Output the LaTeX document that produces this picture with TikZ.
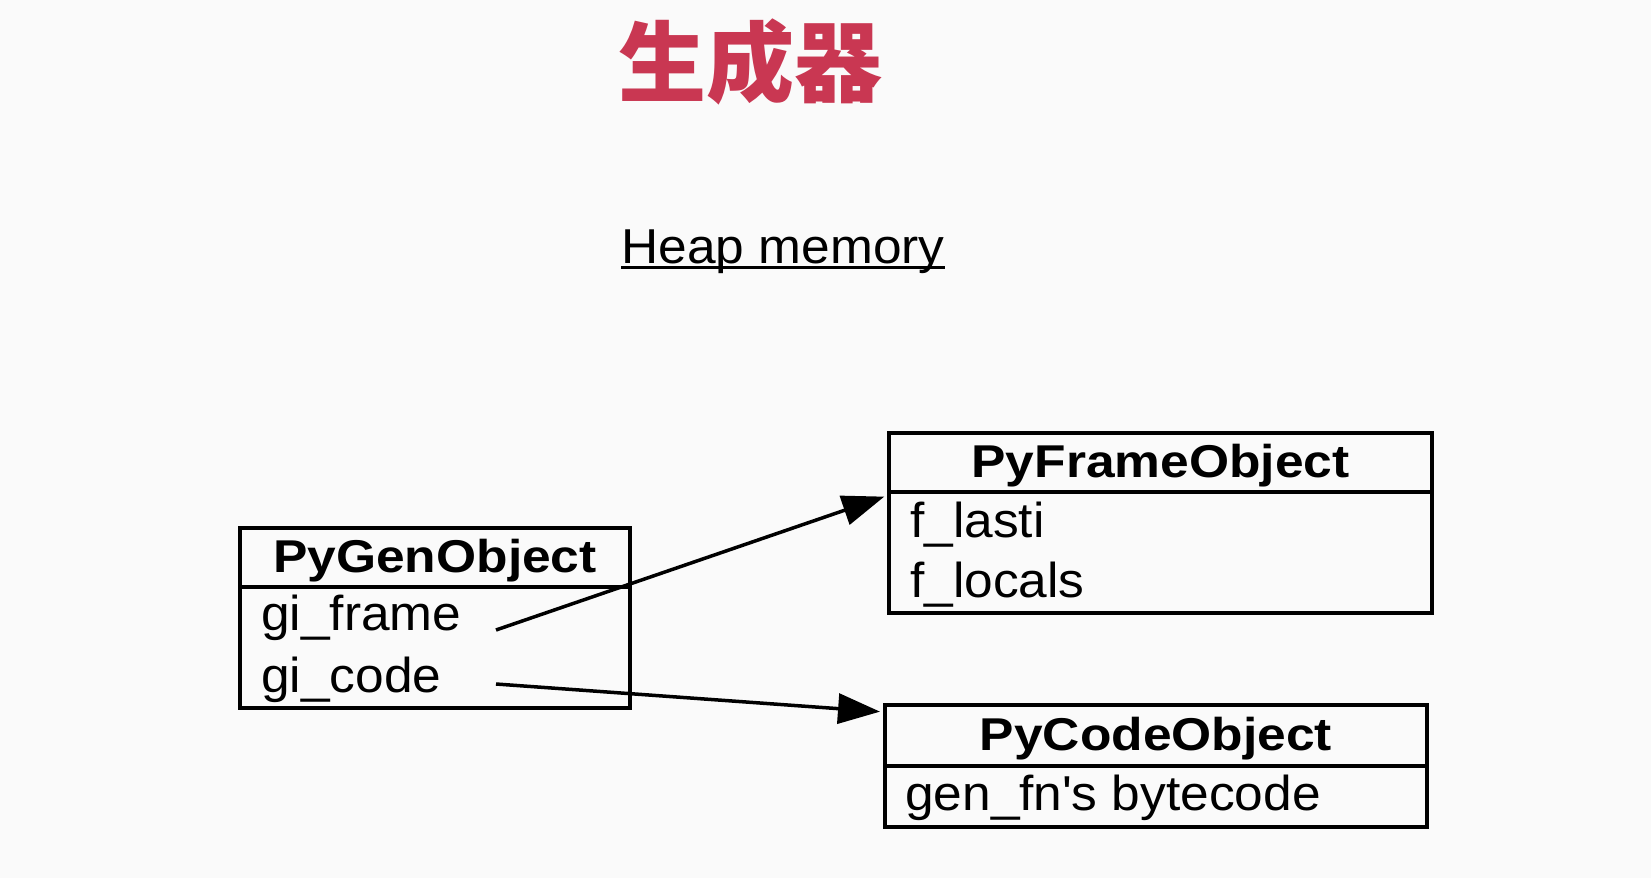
\documentclass[tikz,border=0pt]{standalone}
\usepackage{fontspec}
\setmainfont{Liberation Sans}[FakeStretch=1.05, BoldFeatures={FakeStretch=1.12}]
\newfontfamily\cjkfont{Noto Sans CJK SC}
\usetikzlibrary{positioning}
\usetikzlibrary{calc}
\usetikzlibrary{arrows.meta}
\definecolor{titlered}{RGB}{201,55,82}
\definecolor{bgpaper}{RGB}{250,250,250}
\tikzset{>={Triangle[length=42pt,width=30pt]}}
\tikzset{hdr/.style={draw, line width=3.5pt, inner sep=0pt, outer sep=0pt, minimum height=59pt, text height=34pt, text depth=5pt, font=\fontsize{46}{50}\selectfont\bfseries}}
\tikzset{body/.style={draw, line width=3.5pt, inner sep=0pt, outer sep=0pt}}
\tikzset{field/.style={anchor=base west, inner sep=0pt, font=\fontsize{49}{54}\selectfont}}
\tikzset{ptr/.style={->, line width=3.5pt, shorten >=5pt}}

\begin{document}
\begin{tikzpicture}[x=1pt, y=-1pt]
        \fill[bgpaper] (0,0) rectangle (1651,878);
        \useasboundingbox (0,0) rectangle (1651,878);

        \node[font=\cjkfont\bfseries\fontsize{88}{96}\selectfont, text=titlered, inner sep=0pt] (title) at (750,62) {生成器};
        \node[font=\fontsize{49}{54}\selectfont, anchor=base, inner sep=0pt] (heap) at (783,263) {Heap memory};
        \draw[line width=3pt] ([yshift=-4.5pt]heap.base west) -- ([yshift=-4.5pt]heap.base east);

        % generator
        \node[hdr, minimum width=390pt] (genhdr) at (435,557.5) {PyGenObject};
        \node[body, minimum width=390pt, minimum height=121pt, below=0 of genhdr] (genbody) {};
        \node[field] (gframe) at ($(genbody.north west)+(21,43)$) {gi\_frame};
        \node[field] (gcode) at ($(genbody.north west)+(21,105)$) {gi\_code};

        % frame
        \node[hdr, minimum width=543pt] (framehdr) at (1160.5,462.5) {PyFrameObject};
        \node[body, minimum width=543pt, minimum height=121pt, below=0 of framehdr] (framebody) {};
        \node[field] (flasti) at ($(framebody.north west)+(21,45)$) {f\_lasti};
        \node[field] (flocals) at ($(framebody.north west)+(21,105)$) {f\_locals};

        % code
        \node[hdr, minimum width=542pt, minimum height=61pt] (codehdr) at (1156,735.5) {PyCodeObject};
        \node[body, minimum width=542pt, minimum height=61pt, below=0 of codehdr] (codebody) {};
        \node[field] (bytecode) at ($(codebody.north west)+(20,44)$) {gen\_fn\textquotesingle s bytecode};

        \draw[ptr] ([xshift=235pt]gframe.base west) -- ([yshift=-3pt]framebody.north west);
        \draw[ptr] ([xshift=235pt,yshift=8pt]gcode.base west) -- ([yshift=-7pt]codehdr.north west);
    \end{tikzpicture}
\end{document}
